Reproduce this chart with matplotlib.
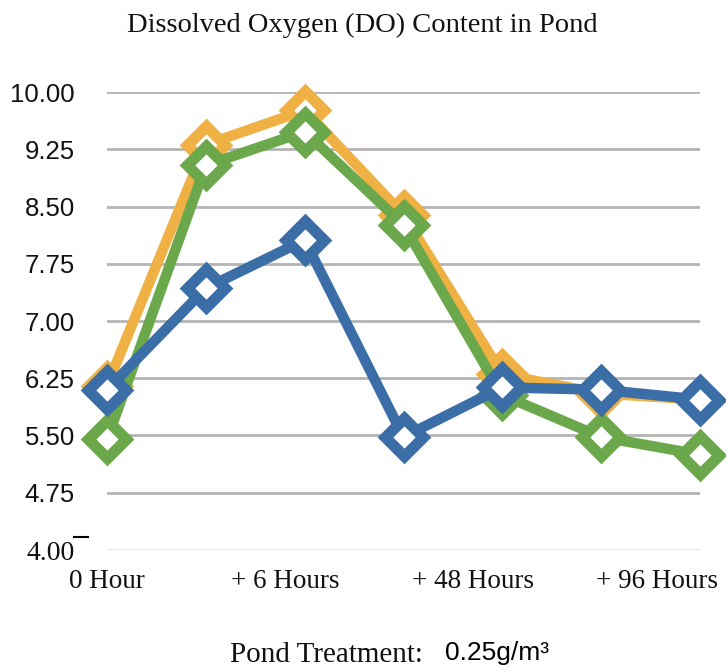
import numpy as np
import matplotlib
matplotlib.use("Agg")
import matplotlib.pyplot as plt
from matplotlib.lines import Line2D

# data
x_points = [0, 1, 2, 3, 4, 5, 6]
orange = [6.15, 9.31, 9.76, 8.39, 6.30, 6.05, 5.97]
green = [5.45, 9.04, 9.48, 8.26, 6.03, 5.48, 5.25]
blue = [6.10, 7.43, 8.06, 5.48, 6.13, 6.10, 5.97]

y_ticks = [4.00, 4.75, 5.50, 6.25, 7.00, 7.75, 8.50, 9.25, 10.00]
x_tick_pos = [0, 1.80, 3.70, 5.56]
x_tick_labels = ["0 Hour", "+ 6 Hours", "+ 48 Hours", "+ 96 Hours"]

SERIF = "Liberation Serif"
SANS = "Liberation Sans"

fig = plt.figure(figsize=(7.26, 6.67), dpi=100)
ax = fig.add_axes([107 / 726, 117 / 667, 593 / 726, 458 / 667])

# gridlines
for i, yv in enumerate(y_ticks):
    col = "#e6e6e6" if i == 0 else "#b4b4b4"
    ax.axhline(yv, color=col, lw=2, zorder=1)

series = [(orange, "#F0B144"), (green, "#6BA74B"), (blue, "#3B6DA6")]
for z, (vals, col) in enumerate(series):
    ax.plot(x_points, vals, color=col, lw=7.5, marker="D", ms=19.5, mew=8,
            mfc="white", mec=col, solid_joinstyle="round", zorder=3 + z,
            clip_on=False)

ax.set_xlim(0, 6)
ax.set_ylim(4, 10)
for s in ax.spines.values():
    s.set_visible(False)
ax.tick_params(length=0)
ax.tick_params(axis="y", pad=23)
ax.tick_params(axis="x", pad=14)

ax.set_yticks(y_ticks)
ylabs = ax.set_yticklabels([f"{v:.2f}" for v in y_ticks])
for i, lab in enumerate(ylabs):
    if i == 0:
        lab.set_fontfamily(SERIF)
        lab.set_fontsize(20)
        lab.set_color("#111111")
    else:
        lab.set_fontfamily(SANS)
        lab.set_fontsize(18.5)
        lab.set_color("#111111")

ax.set_xticks(x_tick_pos)
ax.set_xticklabels(x_tick_labels, fontfamily=SERIF, fontsize=19.5, color="#111111")

# small stray bar next to the bottom tick label
fig.add_artist(Line2D([74 / 726, 88 / 726], [1 - 537 / 667, 1 - 537 / 667],
                      color="black", lw=1.5))

fig.text(362 / 726, 1 - 25 / 667, "Dissolved Oxygen (DO) Content in Pond",
         ha="center", va="center", fontfamily=SERIF, fontsize=20.5, color="#111111")

fig.text(423 / 726, 1 - 655 / 667, "Pond Treatment:", ha="right", va="center",
         fontfamily=SERIF, fontsize=21, color="#111111")
fig.text(445 / 726, 1 - 653 / 667, "0.25g/m³", ha="left", va="center",
         fontfamily=SANS, fontsize=19, color="black")

fig.savefig("out.png", dpi=100)
